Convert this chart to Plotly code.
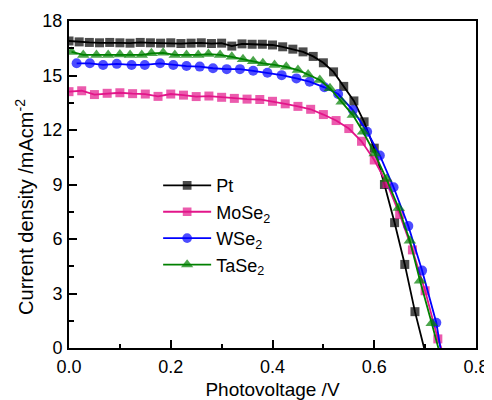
import plotly.graph_objects as go

# ---- data ----
pt_v = [0.00, 0.02, 0.04, 0.06, 0.08, 0.10, 0.12, 0.14, 0.16, 0.18, 0.20, 0.22, 0.24,
        0.26, 0.28, 0.30, 0.32, 0.34, 0.36, 0.38, 0.40, 0.42, 0.44, 0.46, 0.48, 0.50,
        0.52, 0.54, 0.56, 0.58, 0.60, 0.62, 0.64, 0.66, 0.68, 0.698]
pt_j = [16.90, 16.85, 16.82, 16.80, 16.82, 16.80, 16.78, 16.82, 16.80, 16.78, 16.80, 16.76, 16.78,
        16.80, 16.76, 16.78, 16.62, 16.74, 16.72, 16.72, 16.68, 16.58, 16.45, 16.30, 16.05, 15.70,
        15.20, 14.40, 13.60, 12.45, 11.00, 9.00, 6.90, 4.60, 2.00, 0.00]

mose2_v = [0.000, 0.025, 0.050, 0.075, 0.100, 0.125, 0.150, 0.175, 0.200, 0.225, 0.250,
           0.275, 0.300, 0.325, 0.350, 0.375, 0.400, 0.425, 0.450, 0.475, 0.500, 0.525,
           0.550, 0.575, 0.600, 0.625, 0.650, 0.675, 0.700, 0.725, 0.732]
mose2_j = [14.11, 14.16, 13.95, 14.02, 14.05, 14.00, 13.98, 13.85, 13.98, 13.92, 13.84,
           13.87, 13.80, 13.74, 13.70, 13.68, 13.58, 13.44, 13.30, 13.14, 12.85, 12.52,
           12.08, 11.38, 10.35, 9.05, 7.35, 5.40, 3.15, 0.50, 0.00]

wse2_v = [0.015, 0.041, 0.067, 0.094, 0.123, 0.149, 0.179, 0.205, 0.231, 0.257, 0.283,
          0.310, 0.336, 0.362, 0.390, 0.418, 0.447, 0.473, 0.502, 0.529, 0.558, 0.586,
          0.611, 0.638, 0.667, 0.694, 0.722, 0.730]
wse2_j = [15.67, 15.67, 15.58, 15.64, 15.58, 15.58, 15.67, 15.58, 15.52, 15.49, 15.40,
          15.35, 15.35, 15.26, 15.15, 15.02, 14.84, 14.66, 14.35, 13.98, 13.10, 11.90,
          10.60, 8.85, 6.72, 4.26, 1.39, 0.00]

tase2_v = [0.005, 0.028, 0.054, 0.077, 0.100, 0.120, 0.143, 0.162, 0.185, 0.208, 0.231,
           0.254, 0.274, 0.297, 0.320, 0.342, 0.362, 0.381, 0.404, 0.427, 0.450, 0.470,
           0.493, 0.513, 0.536, 0.558, 0.578, 0.601, 0.624, 0.648, 0.670, 0.690, 0.713, 0.726]
tase2_j = [16.30, 16.13, 16.13, 16.13, 16.16, 16.13, 16.13, 16.22, 16.25, 16.13, 16.13,
           16.13, 16.18, 16.13, 16.03, 15.90, 15.78, 15.67, 15.58, 15.48, 15.30, 15.05,
           14.75, 14.30, 13.55, 12.82, 11.90, 10.70, 9.30, 7.70, 5.90, 3.70, 1.36, 0.00]

x_title = "Photovoltage /V"
y_title = "Current density /mAcm<sup>-2</sup>"

series = [
    ("Pt", pt_v, pt_j, "#000000", "square", 9),
    ("MoSe<sub>2</sub>", mose2_v, mose2_j, "#E2168A", "square", 9),
    ("WSe<sub>2</sub>", wse2_v, wse2_j, "#0000FF", "circle", 10),
    ("TaSe<sub>2</sub>", tase2_v, tase2_j, "#008000", "triangle-up", 11),
]

fig = go.Figure()
for name, xv, yv, col, sym, sz in series:
    sizes = [sz] * (len(xv) - 1) + [0]
    fig.add_trace(go.Scatter(
        x=xv, y=yv, name=name, mode="lines+markers",
        line=dict(color=col, width=1.8),
        marker=dict(symbol=sym, size=sizes, color=col, line=dict(width=0)),
    ))

axis_common = dict(
    showgrid=False, zeroline=False, showline=True, linecolor="black", linewidth=2,
    mirror=True, ticks="inside", ticklen=8, tickwidth=1.8, tickcolor="black",
    automargin=False,
    tickfont=dict(family="Liberation Sans, Arial", size=18, color="black"),
)

# the page body adds an 8 px offset, so the figure is 484x392 drawn at (8, 8)
fig.update_layout(
    width=484, height=392,
    margin=dict(l=61, r=16, t=13, b=52),
    paper_bgcolor="white", plot_bgcolor="white",
    font=dict(family="Liberation Sans, Arial", color="black"),
    showlegend=True,
    legend=dict(x=0.219, y=0.553, xanchor="left", yanchor="top",
                bgcolor="rgba(0,0,0,0)", font=dict(size=18),
                itemwidth=48, tracegroupgap=0),
    xaxis=dict(range=[0, 0.8], dtick=0.2, tick0=0, tickformat=".1f",
               minor=dict(dtick=0.1, ticks="inside", ticklen=4, tickwidth=1.8, tickcolor="black"),
               title=dict(text=x_title, font=dict(size=19), standoff=12),
               ticklabelstandoff=1,
               **axis_common),
    yaxis=dict(range=[0, 18], dtick=3, tick0=0,
               minor=dict(dtick=1.5, ticks="inside", ticklen=5, tickwidth=1.8, tickcolor="black"),
               ticklabelstandoff=1,
               **axis_common),
)

fig.add_annotation(
    text=y_title, textangle=-90, showarrow=False,
    xref="paper", yref="paper", x=-0.111, y=0.431,
    xanchor="center", yanchor="middle",
    font=dict(family="Liberation Sans, Arial", size=20, color="black"),
)

fig.write_html("out.html")
